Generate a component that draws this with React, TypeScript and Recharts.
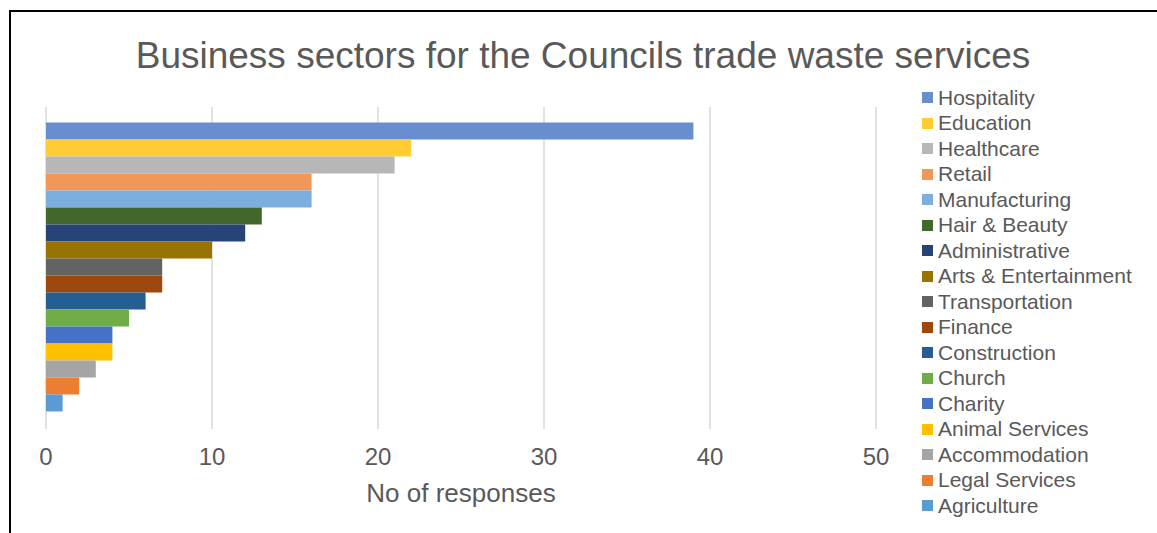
import { Bar, BarChart, CartesianGrid, Legend, XAxis, YAxis } from "recharts";

const sectors = [
  "Hospitality",
  "Education",
  "Healthcare",
  "Retail",
  "Manufacturing",
  "Hair & Beauty",
  "Administrative",
  "Arts & Entertainment",
  "Transportation",
  "Finance",
  "Construction",
  "Church",
  "Charity",
  "Animal Services",
  "Accommodation",
  "Legal Services",
  "Agriculture",
];
const responses = [39, 22, 21, 16, 16, 13, 12, 10, 7, 7, 6, 5, 4, 4, 3, 2, 1];
const sectorColors = [
  "#698ED0",
  "#FFCD33",
  "#B7B7B7",
  "#F1975A",
  "#7CAFDD",
  "#43682B",
  "#264478",
  "#997300",
  "#636363",
  "#9E480E",
  "#255E91",
  "#70AD47",
  "#4472C4",
  "#FFC000",
  "#A5A5A5",
  "#ED7D31",
  "#5B9BD5",
];
const xTicks = [0, 10, 20, 30, 40, 50];

const FONT = '"Liberation Sans", Arial, sans-serif';
const GREY = "#595959";

const row: Record<string, number | string> = { name: "Sectors" };
sectors.forEach((s, i) => {
  row[s] = responses[i];
});
const data = [row];

function LegendList({ payload }: { payload?: any[] }) {
  // keep the series order, not alphabetical
  const items = [...(payload ?? [])].sort((a, b) => sectors.indexOf(a.value) - sectors.indexOf(b.value));
  return (
    <div style={{ fontFamily: FONT, fontSize: 21, color: GREY }}>
      {items.map((p) => (
        <div key={p.value} style={{ display: "flex", alignItems: "center", height: 25.5, whiteSpace: "nowrap" }}>
          <span style={{ width: 11, height: 11, background: p.color, display: "inline-block", marginRight: 5 }} />
          <span>{p.value}</span>
        </div>
      ))}
    </div>
  );
}

export default function App() {
  return (
    <div style={{ position: "absolute", left: 0, top: 0, width: 1157, height: 533, background: "#fff", overflow: "hidden" }}>
      <div
        style={{
          position: "absolute",
          left: 9,
          top: 10,
          width: 1200,
          height: 600,
          borderTop: "2px solid #000",
          borderLeft: "2px solid #000",
        }}
      />
      <div
        style={{
          position: "absolute",
          left: 9,
          width: 1148,
          top: 34,
          textAlign: "center",
          fontFamily: FONT,
          fontSize: 37,
          color: GREY,
          lineHeight: "44px",
        }}
      >
        Business sectors for the Councils trade waste services
      </div>
      <BarChart
        width={1157}
        height={533}
        data={data}
        layout="vertical"
        margin={{ top: 107, right: 281, left: 46, bottom: 0 }}
        barGap={0}
        barCategoryGap="4.8%"
        style={{ position: "absolute", left: 0, top: 0 }}
      >
        <CartesianGrid horizontal={false} stroke="#D9D9D9" strokeWidth={1.5} />
        <XAxis
          type="number"
          domain={[0, 50]}
          ticks={xTicks}
          height={104}
          axisLine={false}
          tickLine={false}
          tickMargin={13}
          tick={{ fill: GREY, fontSize: 24, fontFamily: FONT }}
          label={{
            value: "No of responses",
            position: "insideTop",
            offset: 55,
            fill: GREY,
            fontSize: 26,
            fontFamily: FONT,
          }}
        />
        <YAxis type="category" dataKey="name" hide />
        <Legend
          layout="vertical"
          align="center"
          verticalAlign="middle"
          content={<LegendList />}
          wrapperStyle={{ left: 922, top: 85, width: 230 }}
        />
        {sectors.map((s, i) => (
          <Bar key={s} dataKey={s} fill={sectorColors[i]} isAnimationActive={false} />
        ))}
      </BarChart>
    </div>
  );
}
